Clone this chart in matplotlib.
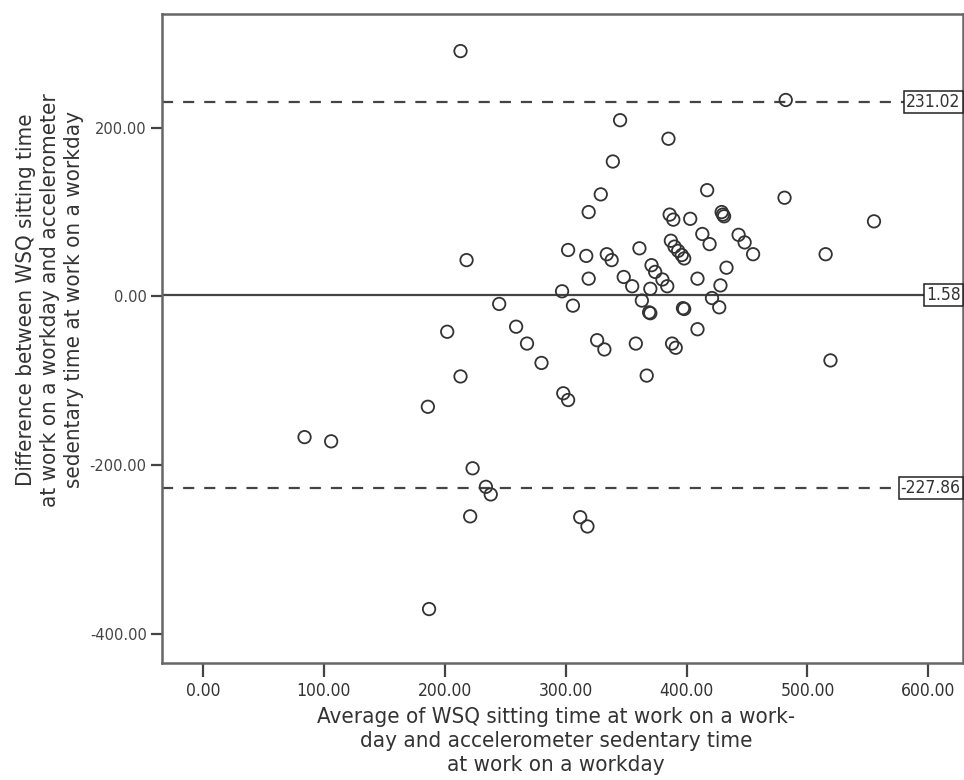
import matplotlib.pyplot as plt
from matplotlib import font_manager

# Bland-Altman data: average (x) vs difference (y)
avg_time = [213, 218, 245, 259, 202, 268, 213, 280, 186, 84,
            106, 223, 234, 238, 221, 187, 297, 306, 355, 370,
            384, 428, 363, 369, 370, 397, 398, 421, 427, 326,
            332, 358, 388, 391, 409, 367, 519, 298, 302, 312,
            318, 482, 345, 385, 339, 329, 319, 417, 481, 555,
            515, 386, 389, 403, 429, 430, 431, 413, 419, 443,
            448, 455, 433, 409, 387, 390, 393, 396, 398, 361,
            371, 374, 380, 348, 334, 338, 317, 302, 319]
diff_time = [291, 43, -9, -36, -42, -56, -95, -79, -131, -167,
             -172, -204, -226, -235, -261, -371, 6, -11, 12, 9,
             12, 13, -5, -19, -20, -14, -15, -2, -13, -52,
             -63, -56, -56, -61, -39, -94, -76, -115, -123, -262,
             -273, 233, 209, 187, 160, 121, 100, 126, 117, 89,
             50, 97, 91, 92, 100, 97, 95, 74, 62, 73,
             64, 50, 34, 21, 66, 59, 54, 49, 45, 57,
             37, 29, 20, 23, 50, 43, 48, 55, 21]

mean_diff = 1.58
upper_loa = 231.02
lower_loa = -227.86

x_ticks = [0, 100, 200, 300, 400, 500, 600]
y_ticks = [-400, -200, 0, 200]

y_label = ("Difference between WSQ sitting time\n"
           "at work on a workday and accelerometer\n"
           "sedentary time at work on a workday")
x_label = ("Average of WSQ sitting time at work on a work-\n"
           "day and accelerometer sedentary time\n"
           "at work on a workday")

# a condensed face gives the look of the original labels
narrow_kw = {'family': 'DejaVu Sans', 'stretch': 'normal'}
for f in font_manager.fontManager.ttflist:
    if f.name == 'Liberation Sans Narrow':
        narrow_kw = {'family': 'Liberation Sans Narrow', 'stretch': 'normal'}
        break
    if f.name == 'DejaVu Sans' and f.stretch == 'condensed':
        narrow_kw = {'family': 'DejaVu Sans', 'stretch': 'condensed'}
condensed = narrow_kw['stretch'] == 'condensed' or narrow_kw['family'] != 'DejaVu Sans'

W, H = 964, 780
fig = plt.figure(figsize=(W / 100, H / 100), dpi=100)
left, right, top, bottom = 162, 963, 14, 663
ax = fig.add_axes([left / W, 1 - bottom / H, (right - left) / W, (bottom - top) / H])

line_col = '#444444'
text_col = '#333333'

ax.scatter(avg_time, diff_time, s=80, facecolors='none', edgecolors='#333333',
           linewidths=1.3, zorder=3)

ax.axhline(mean_diff, color=line_col, lw=1.6, zorder=2)
for v in (upper_loa, lower_loa):
    ax.axhline(v, color=line_col, lw=1.6, ls=(0, (5, 4.5)), zorder=2)

lab_size = 12.5 if condensed else 11
for v in (upper_loa, mean_diff, lower_loa):
    ax.text(0.997, v, f"{v:.2f}", transform=ax.get_yaxis_transform(),
            ha='right', va='center', fontsize=lab_size, color=text_col,
            bbox=dict(boxstyle='square,pad=0.12', fc='white', ec='#222222', lw=1.1),
            zorder=4, **narrow_kw)

ax.set_xlim(-33.9, (right - 203) / 1.209)
ax.set_ylim(-435, 335)

ax.set_xticks(x_ticks)
ax.set_xticklabels([f"{t:.2f}" for t in x_ticks], fontsize=lab_size if condensed else 10.5,
                   color=text_col, **narrow_kw)
ax.set_yticks(y_ticks)
ax.set_yticklabels([f"{t:.2f}" for t in y_ticks], fontsize=10.5, color='#444444')

ax.tick_params(axis='x', length=10, width=1.6, color=line_col, pad=4)
ax.tick_params(axis='y', length=8, width=1.6, color=line_col, pad=3)
for sp in ax.spines.values():
    sp.set_color('#666666')
    sp.set_linewidth(1.8)

title_size = 16 if condensed else 14
fig.text(50 / W, 1 - 300 / H, y_label, rotation=90, ha='center', va='center',
         multialignment='center', fontsize=title_size, color=text_col,
         linespacing=1.22, **narrow_kw)
fig.text(556 / W, 1 - 741 / H, x_label, ha='center', va='center',
         multialignment='center', fontsize=title_size, color=text_col,
         linespacing=1.22, **narrow_kw)

fig.savefig('out.png', dpi=100)
